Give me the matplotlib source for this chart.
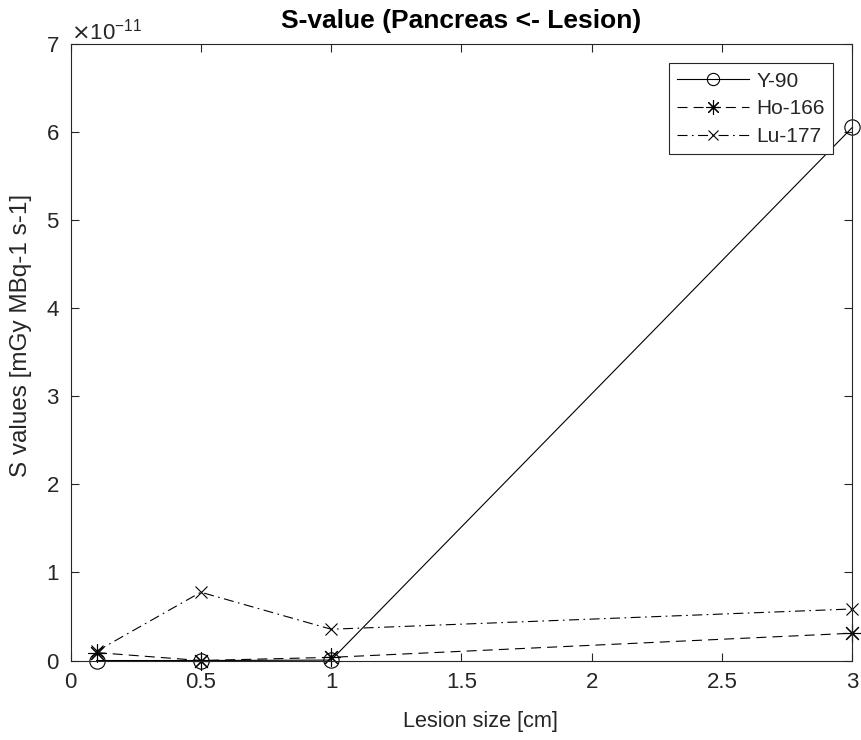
import matplotlib
matplotlib.use("Agg")
import matplotlib.pyplot as plt
from matplotlib.ticker import ScalarFormatter

plt.rcParams["font.family"] = ["Liberation Sans", "DejaVu Sans"]

# lesion sizes [cm] and S values [mGy MBq-1 s-1]
lesion_size = [0.1, 0.5, 1.0, 3.0]
y90 = [0.0, 0.0, 0.005e-11, 6.05e-11]
ho166 = [0.09e-11, 0.0, 0.036e-11, 0.31e-11]
lu177 = [0.105e-11, 0.775e-11, 0.355e-11, 0.585e-11]

ink = "#262626"
asterisk = (8, 2, 0)   # matlab-style '*' (8 spokes)

fig = plt.figure(figsize=(8.61, 7.4), dpi=100)
ax = fig.add_axes([0.0819, 0.1074, 0.9082, 0.8338])

common = dict(color="k", lw=0.8, mec="k", mew=0.8, mfc="none", clip_on=False)
ax.plot(lesion_size, y90, "-", marker="o", ms=11, label="Y-90", **common)
ax.plot(lesion_size, ho166, "--", marker=asterisk, ms=13, dashes=(9, 5.5),
        label="Ho-166", **common)
ax.plot(lesion_size, lu177, "-.", marker="x", ms=9, dashes=(9, 4, 1.5, 4),
        label="Lu-177", **common)

ax.set_xlim(0, 3)
ax.set_ylim(0, 7e-11)
ax.set_xticks([0, 0.5, 1, 1.5, 2, 2.5, 3])
ax.set_xticklabels(["0", "0.5", "1", "1.5", "2", "2.5", "3"])
ax.set_yticks([i * 1e-11 for i in range(8)])

fmt = ScalarFormatter(useMathText=True)
fmt.set_powerlimits((0, 0))
ax.yaxis.set_major_formatter(fmt)
ax.yaxis.get_offset_text().set_fontsize(16)
ax.yaxis.get_offset_text().set_color(ink)

ax.tick_params(direction="in", top=True, right=True, length=6, width=0.8,
               labelsize=16, colors=ink)
ax.tick_params(axis="x", pad=8.5)
ax.tick_params(axis="y", pad=8)
for s in ax.spines.values():
    s.set_color(ink)
    s.set_linewidth(0.8)

ax.set_xlabel("Lesion size [cm]", fontsize=15.6, color=ink)
ax.set_ylabel("S values [mGy MBq-1 s-1]", fontsize=17.5, color=ink)
ax.xaxis.set_label_coords(0.5237, -0.081)
ax.yaxis.set_label_coords(-0.049, 0.527)
ax.set_title("S-value (Pancreas <- Lesion)", fontsize=19, fontweight="bold",
             color="k", pad=11)

leg = ax.legend(loc="upper right", bbox_to_anchor=(0.975, 0.968), fontsize=15,
                handlelength=3.45, fancybox=False, framealpha=1,
                borderaxespad=0, borderpad=0.4, labelspacing=0.42,
                handletextpad=0.35)
leg.get_frame().set_edgecolor(ink)
leg.get_frame().set_linewidth(0.8)
for t in leg.get_texts():
    t.set_color(ink)
for h in leg.legend_handles:
    h.set_markersize(h.get_markersize() * 0.8)

fig.savefig("out.png", dpi=100)
